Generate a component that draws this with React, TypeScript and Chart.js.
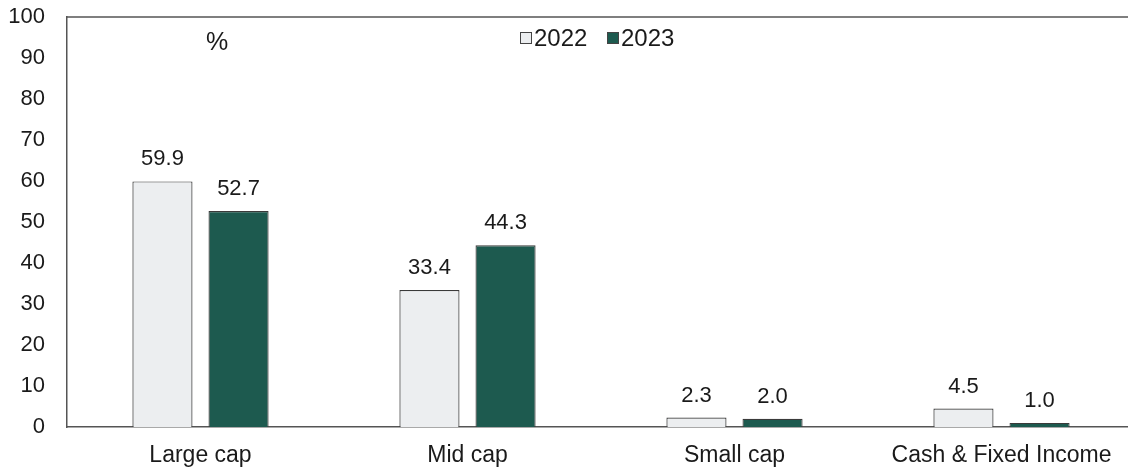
import React, { useEffect, useRef } from "react";
import { Chart, registerables } from "chart.js";

Chart.register(...registerables);

const categories = ["Large cap", "Mid cap", "Small cap", "Cash & Fixed Income"];
const values2022 = [59.9, 33.4, 2.3, 4.5];
const values2023 = [52.7, 44.3, 2.0, 1.0];
const seriesNames = ["2022", "2023"];
const yTicks = [0, 10, 20, 30, 40, 50, 60, 70, 80, 90, 100];

const FONT = "'Liberation Sans', Arial, sans-serif";
const TEXT = "#1a1a1a";

const stretchX = {
  id: "stretchX",
  afterLayout(chart: any) {
    const s = chart.scales.x;
    s.right += 8;
    s.width += 8;
    s.configure();
  },
};

const overlay = {
  id: "overlay",
  afterDatasetsDraw(chart: any) {
    const { ctx, chartArea } = chart;
    ctx.save();
    // top border
    ctx.strokeStyle = "#555";
    ctx.lineWidth = 1.5;
    ctx.beginPath();
    ctx.moveTo(chartArea.left, chartArea.top);
    ctx.lineTo(chart.width, chartArea.top);
    ctx.stroke();
    // data labels
    ctx.fillStyle = TEXT;
    ctx.font = `22px ${FONT}`;
    ctx.textAlign = "center";
    ctx.textBaseline = "bottom";
    chart.data.datasets.forEach((ds: any, di: number) => {
      const meta = chart.getDatasetMeta(di);
      meta.data.forEach((bar: any, i: number) => {
        ctx.fillText(Number(ds.data[i]).toFixed(1), bar.x, bar.y - 11);
      });
    });
    // % label
    ctx.font = `25px ${FONT}`;
    ctx.textAlign = "center";
    ctx.textBaseline = "middle";
    ctx.fillText("%", 217, 43);
    // legend
    const items = [
      { x: 520, fill: "#eceef0", label: seriesNames[0] },
      { x: 607, fill: "#1d5a4f", label: seriesNames[1] },
    ];
    ctx.font = `24px ${FONT}`;
    ctx.textAlign = "left";
    items.forEach((it) => {
      ctx.fillStyle = it.fill;
      ctx.fillRect(it.x, 32, 12, 12);
      ctx.strokeStyle = "#444";
      ctx.lineWidth = 1;
      ctx.strokeRect(it.x + 0.5, 32.5, 11, 11);
      ctx.fillStyle = TEXT;
      ctx.fillText(it.label, it.x + 14, 39);
    });
    ctx.restore();
  },
};

export default function App() {
  const ref = useRef<HTMLCanvasElement>(null);
  useEffect(() => {
    document.body.style.margin = "0";
    const chart = new Chart(ref.current!, {
      type: "bar",
      data: {
        labels: categories,
        datasets: [
          {
            label: seriesNames[0],
            data: values2022,
            backgroundColor: "#eceef0",
            borderColor: "#3a3a3a",
            borderWidth: 1.2,
            categoryPercentage: 0.57,
            barPercentage: 0.79,
          },
          {
            label: seriesNames[1],
            data: values2023,
            backgroundColor: "#1d5a4f",
            borderColor: "#3a3a3a",
            borderWidth: 1.2,
            categoryPercentage: 0.57,
            barPercentage: 0.79,
          },
        ],
      },
      options: {
        animation: false,
        responsive: false,
        devicePixelRatio: 1,
        layout: { padding: { top: 17, right: 1, left: 0, bottom: 0 } },
        plugins: { legend: { display: false }, tooltip: { enabled: false } },
        scales: {
          x: {
            grid: { display: false },
            border: { display: true, color: "#555", width: 1.5 },
            ticks: { color: TEXT, font: { family: FONT, size: 23 }, padding: 7, maxRotation: 0 },
            afterFit: (s: any) => { s.height = 41; s.paddingLeft = 0; s.paddingRight = 0; },
          },
          y: {
            min: 0,
            max: 100,
            grid: { display: false },
            border: { display: true, color: "#555", width: 1.5 },
            afterBuildTicks: (s: any) => { s.ticks = yTicks.map((v) => ({ value: v })); },
            ticks: { color: TEXT, font: { family: FONT, size: 22 }, padding: 14 },
            afterFit: (s: any) => { s.width = 67; s.paddingTop = 0; s.paddingBottom = 0; },
          },
        },
      },
      plugins: [stretchX, overlay],
    });
    return () => chart.destroy();
  }, []);
  return (
    <div style={{ width: 1128, height: 468, background: "#fff" }}>
      <canvas ref={ref} width={1128} height={468} />
    </div>
  );
}
